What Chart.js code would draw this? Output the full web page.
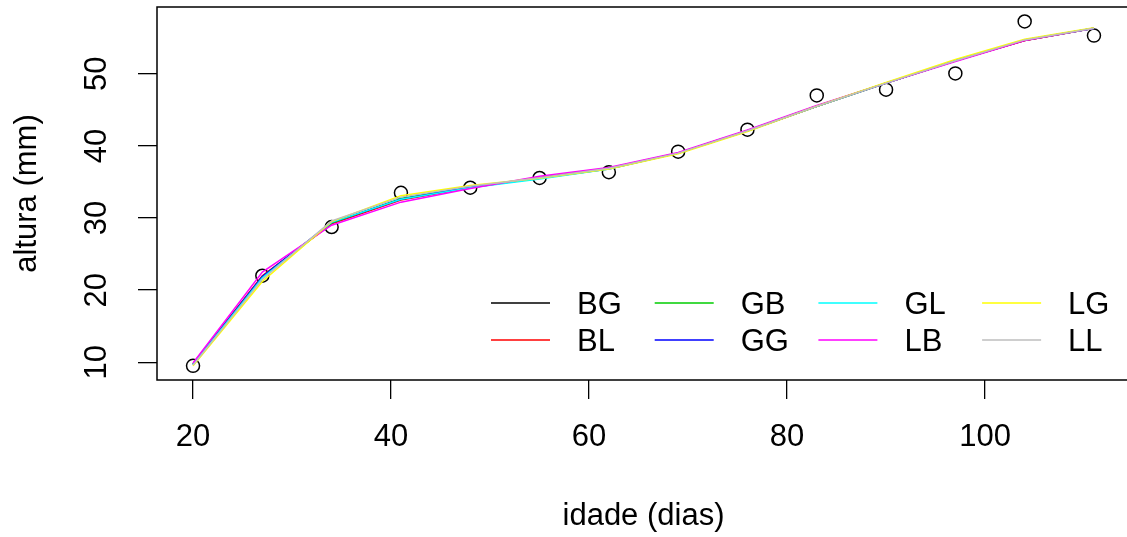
<!DOCTYPE html>
<html lang="pt">
<head>
<meta charset="utf-8">
<title>altura x idade</title>
<script src="https://cdn.jsdelivr.net/npm/chart.js@4.4.1/dist/chart.umd.min.js"></script>
<style>
  html, body { margin: 0; padding: 0; background: #fff; overflow: hidden; }
  #grafico { display: block; }
</style>
</head>
<body>
<canvas id="grafico" width="1131" height="537"></canvas>
<script>
// --- 1. DATOS ---
const idade = [20, 27, 34, 41, 48, 55, 62, 69, 76, 83, 90, 97, 104, 111];
const alturaObs = [9.5, 22.0, 28.75, 33.5, 34.2, 35.55, 36.35, 39.2, 42.25, 47.0, 47.8, 50.05, 57.25, 55.3];

const nomesModelos = ['BG', 'BL', 'GB', 'GG', 'GL', 'LB', 'LG', 'LL'];
const coresModelos = ['#000000', '#FF0000', '#00CD00', '#0000FF', '#00FFFF', '#FF00FF', '#FFFF00', '#BEBEBE'];

// curvas ajustadas, un valor por cada idade
const ajusteBG = [9.7, 21.9, 29.3, 32.6, 34.3, 35.6, 36.9, 39.0, 42.1, 45.5, 48.7, 51.8, 54.6, 56.3];
const ajusteBL = [9.8, 22.0, 29.2, 32.5, 34.2, 35.6, 36.9, 39.0, 42.1, 45.5, 48.7, 51.8, 54.6, 56.3];
const ajusteGB = [9.7, 21.8, 29.3, 32.7, 34.3, 35.5, 36.9, 39.0, 42.1, 45.5, 48.7, 51.8, 54.7, 56.3];
const ajusteGG = [9.7, 21.9, 29.4, 32.6, 34.3, 35.5, 36.8, 39.0, 42.1, 45.5, 48.7, 51.8, 54.7, 56.3];
const ajusteGL = [9.7, 21.7, 29.4, 32.6, 34.2, 35.4, 36.8, 39.0, 42.1, 45.5, 48.7, 51.8, 54.7, 56.3];
const ajusteLB = [9.9, 22.5, 29.0, 32.2, 34.1, 35.8, 37.0, 39.1, 42.2, 45.6, 48.7, 51.7, 54.6, 56.3];
const ajusteLG = [9.5, 21.2, 29.5, 33.1, 34.5, 35.5, 36.8, 38.9, 42.0, 45.5, 48.8, 52.0, 54.8, 56.4];
const ajusteLL = [9.6, 21.5, 29.6, 32.9, 34.4, 35.6, 36.9, 39.0, 42.1, 45.5, 48.7, 51.8, 54.7, 56.3];
const ajustes = [ajusteBG, ajusteBL, ajusteGB, ajusteGG, ajusteGL, ajusteLB, ajusteLG, ajusteLL];

const ticksX = [20, 40, 60, 80, 100];
const ticksY = [10, 20, 30, 40, 50];

// --- 2. PLUGINS (caja del gráfico y leyenda estilo R) ---
const cajaR = {
  id: 'cajaR',
  afterDraw(chart) {
    const a = chart.chartArea;
    const ctx = chart.ctx;
    ctx.save();
    ctx.strokeStyle = '#000';
    ctx.lineWidth = 1.5;
    ctx.strokeRect(a.left, a.top, a.right - a.left, a.bottom - a.top);
    ctx.restore();
  }
};

const leyendaR = {
  id: 'leyendaR',
  afterDatasetsDraw(chart) {
    const a = chart.chartArea;
    const ctx = chart.ctx;
    ctx.save();
    ctx.font = "31px 'Liberation Sans', Arial, sans-serif";
    ctx.textBaseline = 'middle';
    ctx.textAlign = 'left';
    nomesModelos.forEach((nome, i) => {
      const col = Math.floor(i / 2);
      const fila = i % 2;
      const x0 = a.right - 639 + col * 163.7;
      const y = a.bottom - 77 + fila * 37;
      ctx.strokeStyle = coresModelos[i];
      ctx.lineWidth = 1.5;
      ctx.beginPath();
      ctx.moveTo(x0, y);
      ctx.lineTo(x0 + 59, y);
      ctx.stroke();
      ctx.fillStyle = '#000';
      ctx.fillText(nome, x0 + 86, y + 2);
    });
    ctx.restore();
  }
};

// sin relleno automático alrededor de los ejes
function sinPadding(scale) {
  scale.paddingTop = 0;
  scale.paddingBottom = 0;
  scale.paddingLeft = 0;
  scale.paddingRight = 0;
}

// --- 3. DATASETS ---
const datasets = [{
  label: 'observado',
  data: idade.map((x, i) => ({ x: x, y: alturaObs[i] })),
  showLine: false,
  pointStyle: 'circle',
  pointRadius: 6.5,
  pointBorderWidth: 1.5,
  borderColor: '#000',
  backgroundColor: 'rgba(0,0,0,0)',
  order: 20
}];

ajustes.forEach((serie, k) => {
  datasets.push({
    label: nomesModelos[k],
    data: idade.map((x, i) => ({ x: x, y: serie[i] })),
    showLine: true,
    borderColor: coresModelos[k],
    backgroundColor: coresModelos[k],
    borderWidth: 1.5,
    pointRadius: 0,
    tension: 0,
    order: 10 - k // LL queda encima, como en R
  });
});

Chart.defaults.font.family = "'Liberation Sans', Arial, sans-serif";
Chart.defaults.font.size = 31;
Chart.defaults.color = '#000';

new Chart(document.getElementById('grafico'), {
  type: 'scatter',
  data: { datasets: datasets },
  options: {
    responsive: false,
    animation: false,
    layout: { autoPadding: false, padding: { top: 7, right: 1, left: 0, bottom: 0 } },
    plugins: {
      legend: { display: false },
      tooltip: { enabled: false }
    },
    scales: {
      x: {
        type: 'linear',
        min: 16.36,
        max: 114.64,
        border: { display: false },
        grid: { drawOnChartArea: false, drawTicks: true, tickLength: 19, color: '#000', lineWidth: 1.3 },
        ticks: { padding: 20, maxRotation: 0, font: { size: 31 } },
        afterBuildTicks: scale => { scale.ticks = ticksX.map(v => ({ value: v })); },
        afterFit: scale => { scale.height = 157; sinPadding(scale); },
        title: { display: true, text: 'idade (dias)', font: { size: 31 }, padding: { top: 0, bottom: 2 } }
      },
      y: {
        type: 'linear',
        min: 7.54,
        max: 59.26,
        border: { display: false },
        grid: { drawOnChartArea: false, drawTicks: true, tickLength: 19, color: '#000', lineWidth: 1.3 },
        ticks: { padding: 23, minRotation: 90, maxRotation: 90, crossAlign: 'center', font: { size: 31 } },
        afterBuildTicks: scale => { scale.ticks = ticksY.map(v => ({ value: v })); },
        afterFit: scale => { scale.width = 157; sinPadding(scale); },
        title: { display: true, text: 'altura (mm)', font: { size: 31 }, padding: { top: 9, bottom: 0 } }
      }
    }
  },
  plugins: [cajaR, leyendaR]
});
</script>
</body>
</html>
